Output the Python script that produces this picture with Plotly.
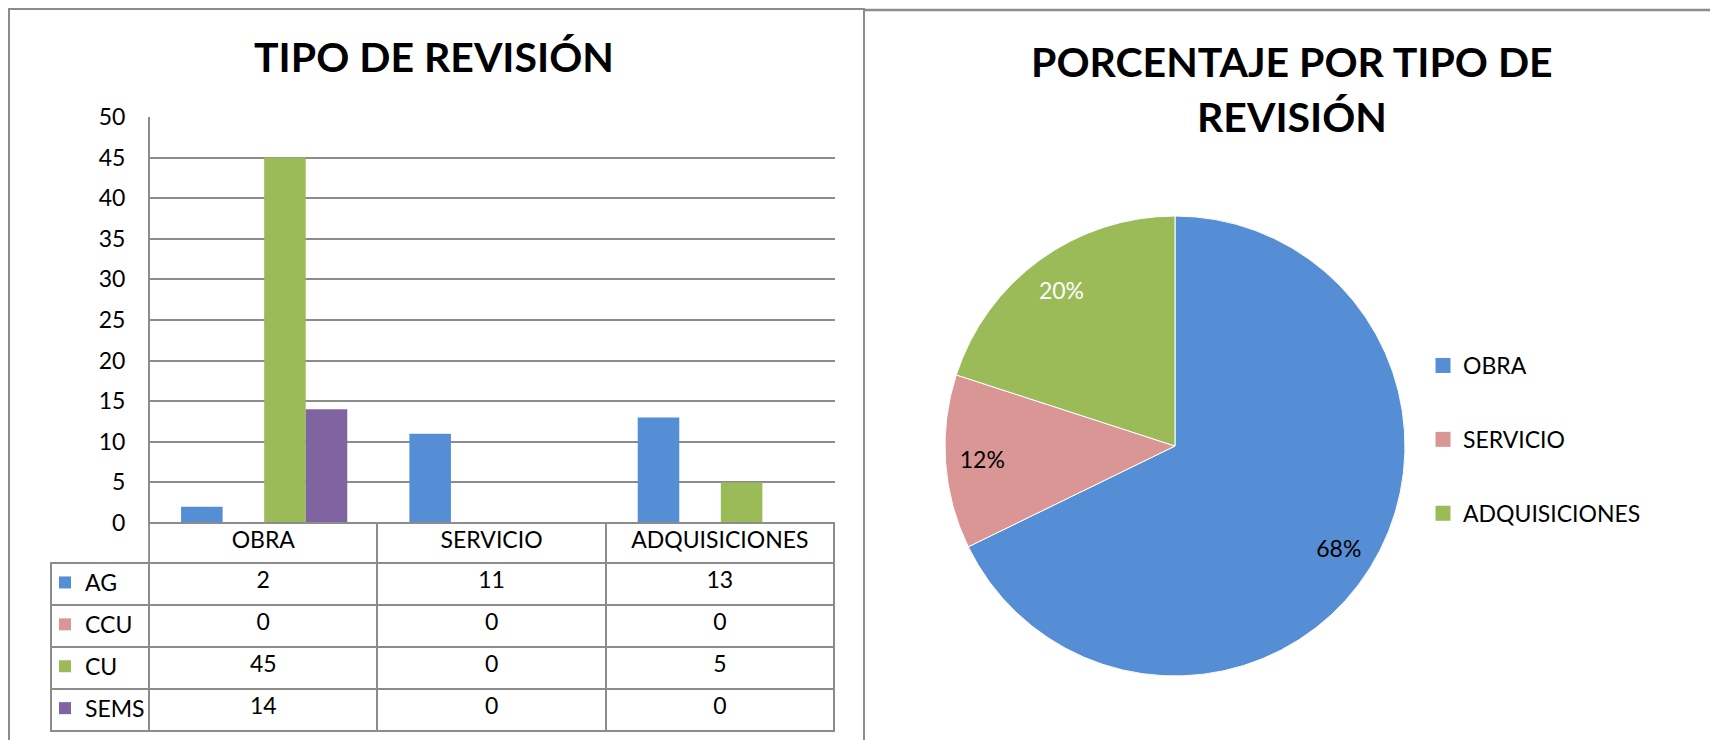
import plotly.graph_objects as go

# ---------------- data ----------------
categories = ["OBRA", "SERVICIO", "ADQUISICIONES"]
series_names = ["AG", "CCU", "CU", "SEMS"]
ag_values = [2, 11, 13]
ccu_values = [0, 0, 0]
cu_values = [45, 0, 5]
sems_values = [14, 0, 0]
series_values = [ag_values, ccu_values, cu_values, sems_values]
y_tick_values = [0, 5, 10, 15, 20, 25, 30, 35, 40, 45, 50]

pie_labels = ["OBRA", "SERVICIO", "ADQUISICIONES"]
pie_values = [61, 11, 18]

bar_title = "TIPO DE REVISIÓN"
pie_title_lines = ["PORCENTAJE POR TIPO DE", "REVISIÓN"]

# ---------------- style ----------------
series_colors = ["#558ED5", "#D99694", "#9BBB59", "#8064A2"]
pie_colors = ["#558ED5", "#D99694", "#9BBB59"]
pie_text_colors = ["#000000", "#000000", "#FFFFFF"]
GRAY = "#8c8c8c"
FONT = "Lato"
FS = 23

W, H = 1718, 740
OFF = 8  # page body margin offset


def px_x(p):
    return (p - OFF) / W


def px_y(p):
    return 1 - (p - OFF) / H


fig = go.Figure()

# bars (their legend keys sit in the first column of the data table)
for name, vals, col in zip(series_names, series_values, series_colors):
    fig.add_trace(go.Bar(
        x=categories, y=vals, name=name,
        marker=dict(color=col, line=dict(width=0)),
        showlegend=True, legend="legend2", legendgroup=name,
        xaxis="x", yaxis="y",
    ))

# data table beneath the bar chart
first_col = ["" for _ in series_names]
table_cols = [first_col] + [[str(v[i]) for v in series_values] for i in range(len(categories))]

fig.add_trace(go.Table(
    domain=dict(x=[px_x(51), px_x(835)], y=[px_y(732), px_y(523)]),
    columnwidth=[98, 228, 228, 228],
    header=dict(
        values=[""] + categories,
        height=40,
        align="center",
        font=dict(family=FONT, size=FS, color="black"),
        line=dict(color=["rgba(0,0,0,0)", GRAY, GRAY, GRAY], width=2),
        fill=dict(color=["rgba(0,0,0,0)", "white", "white", "white"]),
    ),
    cells=dict(
        values=table_cols,
        height=42,
        align=["left", "center", "center", "center"],
        font=dict(family=FONT, size=FS, color="black"),
        line=dict(color=GRAY, width=2),
        fill=dict(color="white"),
    ),
))

pie_domain = dict(x=[px_x(945), px_x(1405)], y=[px_y(676), px_y(216)])

# pie slices
fig.add_trace(go.Pie(
    labels=pie_labels, values=pie_values,
    marker=dict(colors=pie_colors, line=dict(color="white", width=1)),
    sort=False, direction="clockwise", rotation=0,
    textinfo="none",
    domain=pie_domain,
    showlegend=False,
))
# percentage labels placed toward the rim (transparent ring)
fig.add_trace(go.Pie(
    labels=pie_labels, values=pie_values, hole=0.68,
    marker=dict(colors=["rgba(0,0,0,0)"] * len(pie_labels), line=dict(width=0)),
    sort=False, direction="clockwise", rotation=0,
    textposition="inside", insidetextorientation="horizontal",
    texttemplate="%{percent:.0%}",
    textfont=dict(family=FONT, size=FS, color=pie_text_colors),
    domain=pie_domain,
    showlegend=False, hoverinfo="skip",
))

# legend entries for the pie
for lab, col in zip(pie_labels, pie_colors):
    fig.add_trace(go.Scatter(
        x=[None], y=[None], mode="markers", name=lab, legendgroup=lab,
        marker=dict(symbol="square", size=15, color=col),
        showlegend=True, legend="legend", hoverinfo="skip",
    ))

title_font = dict(family=FONT, size=41, color="black", weight="bold")

fig.update_layout(
    width=W, height=H,
    margin=dict(l=0, r=0, t=0, b=0, pad=0, autoexpand=False),
    paper_bgcolor="white", plot_bgcolor="white",
    font=dict(family=FONT, size=FS, color="black"),
    barmode="group", bargap=0.272, bargroupgap=0,
    xaxis=dict(
        domain=[px_x(150), px_x(835)], type="category",
        showticklabels=False, showgrid=False, zeroline=False, showline=False,
        automargin=False,
    ),
    yaxis=dict(
        domain=[px_y(523), px_y(117)], range=[0, 50],
        tickvals=y_tick_values,
        showgrid=True, gridcolor=GRAY, gridwidth=2,
        showline=True, linecolor=GRAY, linewidth=2,
        zeroline=False, ticks="",
        tickfont=dict(family=FONT, size=FS, color="black"),
        ticklabelstandoff=18, automargin=False,
    ),
    legend=dict(
        x=px_x(1423), y=px_y(344), xanchor="left", yanchor="top",
        font=dict(family=FONT, size=FS, color="black"),
        tracegroupgap=41, bgcolor="rgba(0,0,0,0)",
    ),
    legend2=dict(
        x=px_x(45), y=px_y(561), xanchor="left", yanchor="top",
        font=dict(family=FONT, size=FS, color="black"),
        tracegroupgap=9, bgcolor="rgba(0,0,0,0)",
    ),
    shapes=[
        dict(type="rect", xref="paper", yref="paper",
             x0=px_x(9), x1=px_x(864), y0=-0.05, y1=px_y(9),
             line=dict(color=GRAY, width=2)),
        dict(type="line", xref="paper", yref="paper",
             x0=px_x(864), x1=1.05, y0=px_y(10), y1=px_y(10),
             line=dict(color=GRAY, width=2.5)),
    ],
    annotations=[
        dict(text=bar_title, xref="paper", yref="paper",
             x=px_x(434), y=px_y(57), xanchor="center", yanchor="middle",
             showarrow=False, font=title_font),
        dict(text=pie_title_lines[0], xref="paper", yref="paper",
             x=px_x(1292), y=px_y(61), xanchor="center", yanchor="middle",
             showarrow=False, font=title_font),
        dict(text=pie_title_lines[1], xref="paper", yref="paper",
             x=px_x(1292), y=px_y(117), xanchor="center", yanchor="middle",
             showarrow=False, font=title_font),
    ],
)

fig.write_html("out.html")
